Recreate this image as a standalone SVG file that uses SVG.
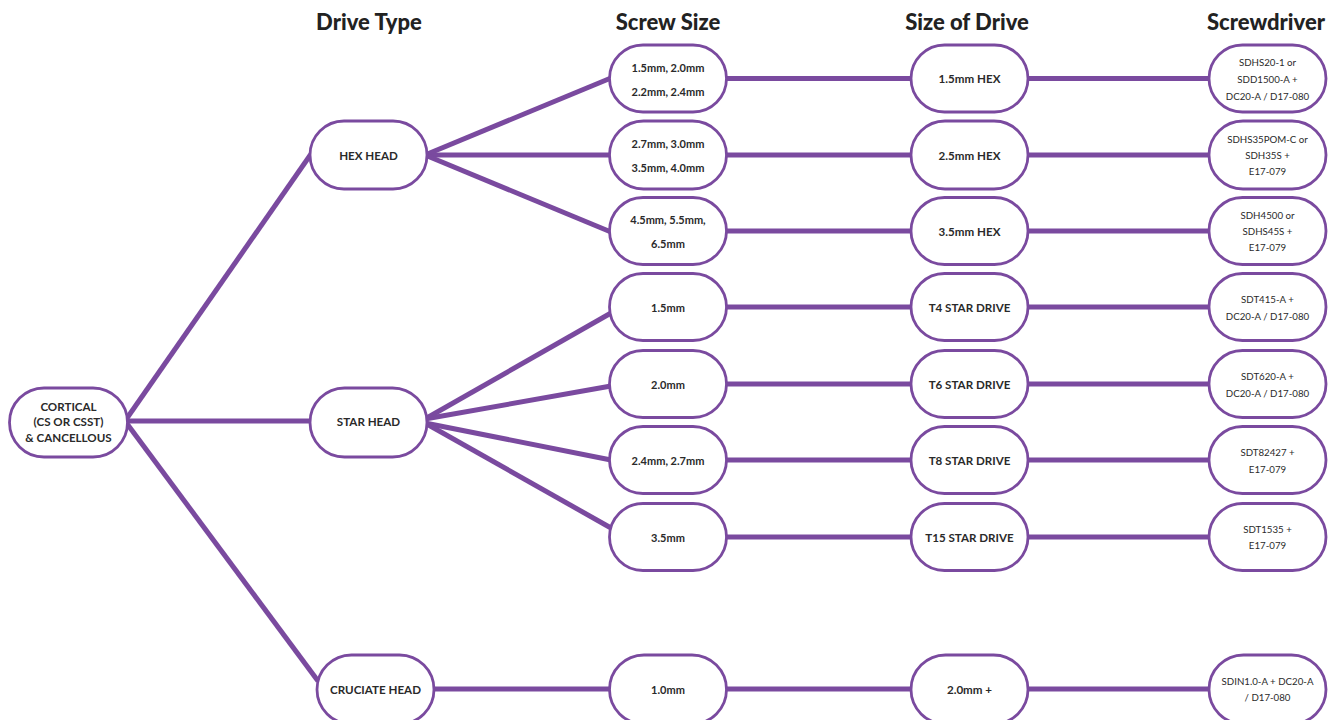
<svg xmlns="http://www.w3.org/2000/svg" width="1329" height="720" viewBox="0 0 1329 720">
<style>
.bg{fill:#ffffff}
.node{fill:#ffffff;stroke:#7a4a9f;stroke-width:2.8}
.conn line{stroke:#7a4a9f;stroke-width:5;stroke-linecap:butt}
.hdr{font-family:Lato,"Open Sans","DejaVu Sans",sans-serif;font-weight:900;font-size:22px;fill:#222;text-anchor:middle}
.b{font-family:Lato,"Open Sans","DejaVu Sans",sans-serif;font-weight:700;font-size:11px;fill:#2a2a2a;text-anchor:middle;dominant-baseline:central}
.c{font-family:Lato,"Open Sans","DejaVu Sans",sans-serif;font-weight:700;font-size:11.6px;fill:#2a2a2a;text-anchor:middle;dominant-baseline:central}
.r{font-family:Lato,"Open Sans","DejaVu Sans",sans-serif;font-weight:400;font-size:9.7px;fill:#2a2a2a;text-anchor:middle;dominant-baseline:central}
</style>
<rect class="bg" x="0" y="0" width="1329" height="720"/>
<g id="headers">
<text class="hdr" x="369" y="30">Drive Type</text>
<text class="hdr" x="668" y="30">Screw Size</text>
<text class="hdr" x="967" y="30">Size of Drive</text>
<text class="hdr" x="1266" y="30">Screwdriver</text>
</g>
<g class="conn" id="connectors">
<line x1="125" y1="421" x2="311" y2="154"/>
<line x1="125" y1="421" x2="312" y2="421"/>
<line x1="125" y1="421" x2="318" y2="681"/>
<line x1="425" y1="155" x2="611" y2="78"/>
<line x1="425" y1="155" x2="611" y2="155"/>
<line x1="425" y1="155" x2="611" y2="232"/>
<line x1="425" y1="419" x2="611" y2="313"/>
<line x1="425" y1="419" x2="611" y2="386"/>
<line x1="425" y1="423" x2="611" y2="460"/>
<line x1="425" y1="423" x2="611" y2="528"/>
<line x1="432" y1="689" x2="611" y2="689"/>
<line x1="726" y1="78.5" x2="912" y2="78.5"/>
<line x1="726" y1="155" x2="912" y2="155"/>
<line x1="726" y1="231" x2="912" y2="231"/>
<line x1="726" y1="307" x2="912" y2="307"/>
<line x1="726" y1="384" x2="912" y2="384"/>
<line x1="726" y1="460" x2="912" y2="460"/>
<line x1="726" y1="537" x2="912" y2="537"/>
<line x1="726" y1="689" x2="912" y2="689"/>
<line x1="1027" y1="78.5" x2="1210" y2="78.5"/>
<line x1="1027" y1="155" x2="1210" y2="155"/>
<line x1="1027" y1="231" x2="1210" y2="231"/>
<line x1="1027" y1="307" x2="1210" y2="307"/>
<line x1="1027" y1="384" x2="1210" y2="384"/>
<line x1="1027" y1="460" x2="1210" y2="460"/>
<line x1="1027" y1="537" x2="1210" y2="537"/>
<line x1="1027" y1="689" x2="1210" y2="689"/>
</g>
<g id="cortical"><rect class="node" x="9.5" y="388" width="118" height="69" rx="34.5"/>
<text class="c" x="68.5" y="406">CORTICAL</text><text class="c" x="68.5" y="421.5">(CS OR CSST)</text><text class="c" x="68.5" y="437">&amp; CANCELLOUS</text></g>
<g id="hex-head"><rect class="node" x="310" y="121" width="117" height="68" rx="34"/><text class="c" x="368.5" y="155">HEX HEAD</text></g>
<g id="star-head"><rect class="node" x="310" y="388" width="117" height="69" rx="34.5"/><text class="c" x="368.5" y="421.5">STAR HEAD</text></g>
<g id="cruciate-head"><rect class="node" x="317" y="655" width="117" height="69" rx="34.5"/><text class="c" x="375.5" y="689">CRUCIATE HEAD</text></g>

<g id="screw-1"><rect class="node" x="609.5" y="45" width="117" height="67" rx="33.5"/><text class="b" x="668" y="67.5">1.5mm, 2.0mm</text><text class="b" x="668" y="91.5">2.2mm, 2.4mm</text></g>
<g id="screw-2"><rect class="node" x="609.5" y="121" width="117" height="68" rx="34"/><text class="b" x="668" y="143.5">2.7mm, 3.0mm</text><text class="b" x="668" y="167.5">3.5mm, 4.0mm</text></g>
<g id="screw-3"><rect class="node" x="609.5" y="197.5" width="117" height="67" rx="33.5"/><text class="b" x="668" y="219.5">4.5mm, 5.5mm,</text><text class="b" x="668" y="243.5">6.5mm</text></g>
<g id="screw-4"><rect class="node" x="609.5" y="273.5" width="117" height="67" rx="33.5"/><text class="b" x="668" y="307.5">1.5mm</text></g>
<g id="screw-5"><rect class="node" x="609.5" y="350.5" width="117" height="67" rx="33.5"/><text class="b" x="668" y="384">2.0mm</text></g>
<g id="screw-6"><rect class="node" x="609.5" y="426.5" width="117" height="67" rx="33.5"/><text class="b" x="668" y="460">2.4mm, 2.7mm</text></g>
<g id="screw-7"><rect class="node" x="609.5" y="503.5" width="117" height="67" rx="33.5"/><text class="b" x="668" y="537">3.5mm</text></g>
<g id="screw-8"><rect class="node" x="609.5" y="655" width="117" height="69" rx="34.5"/><text class="b" x="668" y="689">1.0mm</text></g>

<g id="drive-1"><rect class="node" x="911" y="45" width="117" height="67" rx="33.5"/><text class="c" x="969.5" y="78.5">1.5mm HEX</text></g>
<g id="drive-2"><rect class="node" x="911" y="121" width="117" height="68" rx="34"/><text class="c" x="969.5" y="155">2.5mm HEX</text></g>
<g id="drive-3"><rect class="node" x="911" y="197.5" width="117" height="67" rx="33.5"/><text class="c" x="969.5" y="231">3.5mm HEX</text></g>
<g id="drive-4"><rect class="node" x="911" y="273.5" width="117" height="67" rx="33.5"/><text class="c" x="969.5" y="307.5">T4 STAR DRIVE</text></g>
<g id="drive-5"><rect class="node" x="911" y="350.5" width="117" height="67" rx="33.5"/><text class="c" x="969.5" y="384">T6 STAR DRIVE</text></g>
<g id="drive-6"><rect class="node" x="911" y="426.5" width="117" height="67" rx="33.5"/><text class="c" x="969.5" y="460">T8 STAR DRIVE</text></g>
<g id="drive-7"><rect class="node" x="911" y="503.5" width="117" height="67" rx="33.5"/><text class="c" x="969.5" y="537">T15 STAR DRIVE</text></g>
<g id="drive-8"><rect class="node" x="911" y="655" width="117" height="69" rx="34.5"/><text class="c" x="969.5" y="689">2.0mm +</text></g>

<g id="driver-1"><rect class="node" x="1209" y="45" width="117" height="67" rx="33.5"/><text class="r" x="1267.5" y="62">SDHS20-1 or</text><text class="r" x="1267.5" y="79">SDD1500-A +</text><text class="r" x="1267.5" y="96">DC20-A / D17-080</text></g>
<g id="driver-2"><rect class="node" x="1209" y="121" width="117" height="68" rx="34"/><text class="r" x="1267.5" y="139">SDHS35POM-C or</text><text class="r" x="1267.5" y="155">SDH35S +</text><text class="r" x="1267.5" y="171">E17-079</text></g>
<g id="driver-3"><rect class="node" x="1209" y="197.5" width="117" height="67" rx="33.5"/><text class="r" x="1267.5" y="215">SDH4500 or</text><text class="r" x="1267.5" y="231">SDHS45S +</text><text class="r" x="1267.5" y="247">E17-079</text></g>
<g id="driver-4"><rect class="node" x="1209" y="273.5" width="117" height="67" rx="33.5"/><text class="r" x="1267.5" y="299">SDT415-A +</text><text class="r" x="1267.5" y="316">DC20-A / D17-080</text></g>
<g id="driver-5"><rect class="node" x="1209" y="350.5" width="117" height="67" rx="33.5"/><text class="r" x="1267.5" y="376">SDT620-A +</text><text class="r" x="1267.5" y="392.5">DC20-A / D17-080</text></g>
<g id="driver-6"><rect class="node" x="1209" y="426.5" width="117" height="67" rx="33.5"/><text class="r" x="1267.5" y="452">SDT82427 +</text><text class="r" x="1267.5" y="469">E17-079</text></g>
<g id="driver-7"><rect class="node" x="1209" y="503.5" width="117" height="67" rx="33.5"/><text class="r" x="1267.5" y="529">SDT1535 +</text><text class="r" x="1267.5" y="545">E17-079</text></g>
<g id="driver-8"><rect class="node" x="1209" y="655" width="117" height="69" rx="34.5"/><text class="r" x="1267.5" y="681">SDIN1.0-A + DC20-A</text><text class="r" x="1267.5" y="697">/ D17-080</text></g>
</svg>
